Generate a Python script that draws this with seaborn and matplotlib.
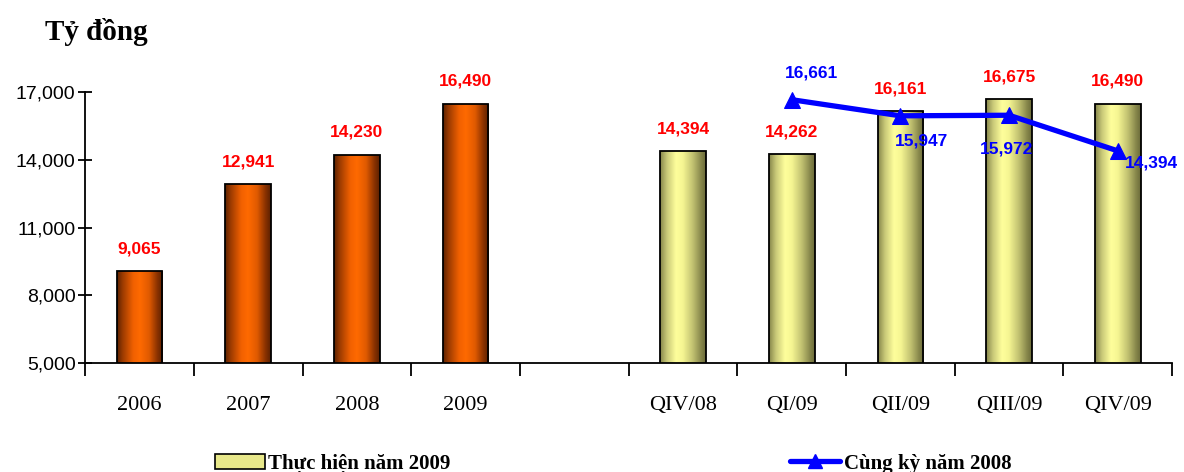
import numpy as np
import pandas as pd
import matplotlib
matplotlib.use("Agg")
import matplotlib.pyplot as plt
from matplotlib.colors import LinearSegmentedColormap
from matplotlib.patches import Patch
from matplotlib.lines import Line2D
from matplotlib.ticker import FuncFormatter
import seaborn as sns

# ---------------- data ----------------
year_cats = ["2006", "2007", "2008", "2009"]
year_vals = [9065, 12941, 14230, 16490]
quarter_cats = ["QIV/08", "QI/09", "QII/09", "QIII/09", "QIV/09"]
quarter_vals = [14394, 14262, 16161, 16675, 16490]
line_cats = ["QI/09", "QII/09", "QIII/09", "QIV/09"]
line_vals = [16661, 15947, 15972, 14394]
gap_cat = " "
order = year_cats + [gap_cat] + quarter_cats
y_ticks = [5000, 8000, 11000, 14000, 17000]
title_text = "Tỷ đồng"
legend_bar = "Thực hiện năm 2009"
legend_line = "Cùng kỳ năm 2008"

df = pd.DataFrame({
    "cat": year_cats + quarter_cats,
    "value": year_vals + quarter_vals,
    "group": ["year"] * len(year_cats) + ["quarter"] * len(quarter_cats),
})

sns.set_style("white")
plt.rcParams["font.family"] = ["Liberation Sans", "DejaVu Sans"]
plt.rcParams["text.color"] = "black"
plt.rcParams["xtick.color"] = "black"
plt.rcParams["ytick.color"] = "black"
plt.rcParams["axes.labelcolor"] = "black"

serif = ["Liberation Serif", "DejaVu Serif"]

fig = plt.figure(figsize=(11.84, 4.72), dpi=100)
ax = fig.add_axes([0.072, 0.231, 0.918, 0.574])

sns.barplot(data=df, x="cat", y="value", hue="group", order=order,
            palette={"year": "#ff6600", "quarter": "#f5f59a"},
            dodge=False, width=0.42, edgecolor="black", linewidth=1.3,
            legend=False, ax=ax, zorder=2)

ax.set_ylim(5000, 17000)
ax.set_xlim(-0.5, len(order) - 0.5)

orange_cm = LinearSegmentedColormap.from_list("og", [
    (0.0, "#5c2200"), (0.12, "#9a3a00"), (0.35, "#f06000"), (0.5, "#ff6a00"),
    (0.7, "#e05a00"), (0.88, "#8a3200"), (1.0, "#5a2000")])
yellow_cm = LinearSegmentedColormap.from_list("yl", [
    (0.0, "#85854a"), (0.15, "#c8c878"), (0.35, "#ffff9c"), (0.5, "#f5f592"),
    (0.72, "#c0c070"), (0.9, "#85854a"), (1.0, "#6a6a3a")])

grad = np.linspace(0, 1, 256).reshape(1, -1)
for p in ax.patches:
    x0, w, h = p.get_x(), p.get_width(), p.get_height()
    if not np.isfinite(h) or h == 0:
        continue
    cx = x0 + w / 2
    idx = int(round(cx))
    cm = orange_cm if order[idx] in year_cats else yellow_cm
    im = ax.imshow(grad, cmap=cm, extent=[x0, x0 + w, 5000, h],
                   aspect="auto", zorder=2.5, interpolation="bicubic")
    im.set_clip_path(p)
    p.set_zorder(3)
    p.set_facecolor("none")

ax.set_ylim(5000, 17000)
ax.set_xlim(-0.5, len(order) - 0.5)

# value labels on bars
for c, v in zip(year_cats + quarter_cats, year_vals + quarter_vals):
    ax.annotate(f"{v:,}", (order.index(c), v), xytext=(0, 10.5),
                textcoords="offset points", ha="center", va="bottom",
                color="#ff0000", fontsize=12.5, fontweight="bold",
                annotation_clip=False, zorder=5)

# line
line_x = [order.index(c) for c in line_cats]
sns.lineplot(x=line_x, y=line_vals, ax=ax, color="#0000ff", linewidth=3.8,
             marker="^", markersize=11, markeredgecolor="#0000ff",
             zorder=4, clip_on=False)
offsets = [(14, 19), (15, -18), (-2, -24), (24, -9)]
for xx, v, off in zip(line_x, line_vals, offsets):
    ax.annotate(f"{v:,}", (xx, v), xytext=off, textcoords="offset points",
                ha="center", va="center", color="#0000ff", fontsize=12.5,
                fontweight="bold", annotation_clip=False, zorder=6)

# axes styling
ax.set_yticks(y_ticks)
ax.yaxis.set_major_formatter(FuncFormatter(lambda v, _: f"{int(v):,}"))
ax.tick_params(axis="y", left=True, direction="inout", length=10, width=1.3,
               labelsize=14, pad=2, colors="black")
ax.set_xticks(range(len(order)))
ax.set_xticklabels(order, fontfamily=serif, fontsize=16)
ax.set_xticks(np.arange(-0.5, len(order)), minor=True)
ax.tick_params(axis="x", which="major", bottom=True, length=0, pad=24)
ax.tick_params(axis="x", which="minor", bottom=True, direction="out",
               length=9, width=1.3, color="black")
ax.set_xlabel("")
ax.set_ylabel("")
for s in ["top", "right"]:
    ax.spines[s].set_visible(False)
for s in ["left", "bottom"]:
    ax.spines[s].set_color("black")
    ax.spines[s].set_linewidth(1.3)
ax.grid(False)

fig.text(0.038, 0.933, title_text, fontfamily=serif,
         fontsize=21, fontweight="bold", ha="left", va="center", color="black")

handles = [
    Patch(facecolor="#e8e88a", edgecolor="black", linewidth=1.2),
    Line2D([0], [0], color="#0000ff", linewidth=3.8, marker="^",
           markersize=10),
]
fig.legend(handles, [legend_bar, legend_line], loc="lower left",
           bbox_to_anchor=(0.166, -0.043), ncol=2, frameon=False,
           prop={"family": serif, "weight": "bold", "size": 15},
           columnspacing=16.3, handlelength=2.4, handletextpad=0.15)

fig.savefig("out.png", dpi=100, facecolor="white")
